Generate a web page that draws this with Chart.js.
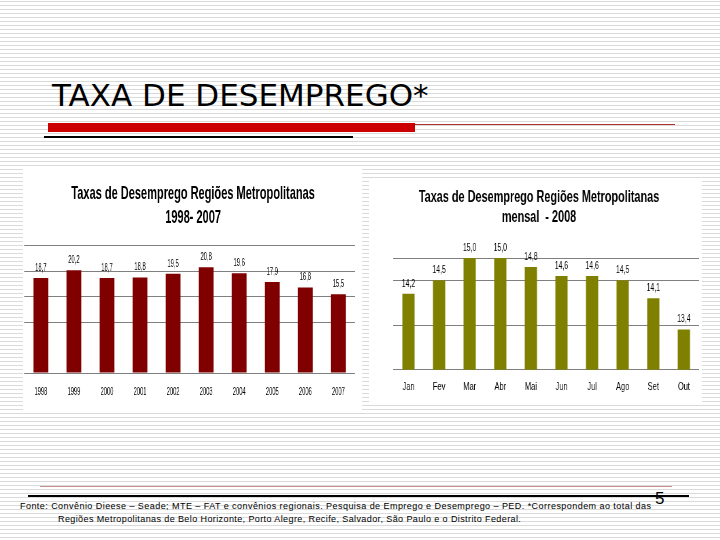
<!DOCTYPE html>
<html>
<head>
<meta charset="utf-8">
<script src="https://cdn.jsdelivr.net/npm/chart.js@4.4.1/dist/chart.umd.min.js"></script>
<style>
    body { margin: 0; }
    #slide {
        position: relative; width: 720px; height: 540px; overflow: hidden;
        background: repeating-linear-gradient(to bottom, #fff 0px, #fff 1px, #dadada 1px, #dadada 2px, #fff 2px, #fff 4px);
        font-family: "Liberation Sans", Arial, sans-serif;
    }
    .abs { position: absolute; }
    #title { left: 52px; top: 77px; font-family: "DejaVu Sans", Verdana, sans-serif; font-size: 31px; color: #000; white-space: nowrap; }
    .panel { background: #fff; }
    .wrap { position: absolute; transform-origin: 0 0; }
    #foot1 { left: 20px; top: 501px; font-size: 9px; white-space: nowrap; letter-spacing: 0.45px; }
    #foot2 { left: 58px; top: 514px; font-size: 9px; white-space: nowrap; letter-spacing: 0.4px; }
    #pagenum { left: 655px; top: 489px; font-size: 17px; }
</style>
</head>
<body>
<div id="slide">
    <div id="title" class="abs">TAXA DE DESEMPREGO*</div>
    <div class="abs" style="left:48px; top:123px; width:367px; height:9px; background:#cc0000"></div>
    <div class="abs" style="left:415px; top:124px; width:260px; height:1px; background:#b03030"></div>
    <div class="abs" style="left:44px; top:136px; width:309px; height:2px; background:#000"></div>

    <div class="abs panel" style="left:23px; top:168px; width:339px; height:242px"></div>
    <div class="abs panel" style="left:369px; top:178px; width:333px; height:227px"></div>

    <div class="wrap" id="wrap1" style="left:22px; top:168px; transform:scaleX(0.58)">
        <canvas id="chart1" width="590" height="253"></canvas>
    </div>
    <div class="wrap" id="wrap2" style="left:368px; top:178px; transform:scaleX(0.68)">
        <canvas id="chart2" width="503" height="238"></canvas>
    </div>

    <div class="abs" style="left:40px; top:486px; width:632px; height:1px; background:#c89090"></div>
    <div class="abs" style="left:28px; top:495px; width:661px; height:2px; background:#000"></div>
    <div id="foot1" class="abs">Fonte: Convênio Dieese – Seade; MTE – FAT e convênios regionais. Pesquisa de Emprego e Desemprego – PED. *Correspondem ao total das</div>
    <div id="foot2" class="abs">Regiões Metropolitanas de Belo Horizonte, Porto Alegre, Recife, Salvador, São Paulo e o Distrito Federal.</div>
    <div id="pagenum" class="abs">5</div>
</div>

<script>
// annual series 1998-2007
const years = ['1998', '1999', '2000', '2001', '2002', '2003', '2004', '2005', '2006', '2007']
const annualRates = [18.7, 20.2, 18.7, 18.8, 19.5, 20.8, 19.6, 17.9, 16.8, 15.5]

// monthly series 2008
const months = ['Jan', 'Fev', 'Mar', 'Abr', 'Mai', 'Jun', 'Jul', 'Ago', 'Set', 'Out']
const monthlyRates = [14.2, 14.5, 15.0, 15.0, 14.8, 14.6, 14.6, 14.5, 14.1, 13.4]

Chart.defaults.font.family = '"Liberation Sans", Arial, sans-serif'
Chart.defaults.color = '#000'
Chart.defaults.animation = false

// value labels over the bars, with comma decimals
const barValues = {
    id: 'barValues',
    afterDatasetsDraw(chart, args, opts) {
        const ctx = chart.ctx
        const meta = chart.getDatasetMeta(0)
        const data = chart.data.datasets[0].data
        ctx.save()
        ctx.font = opts.size + 'px "Liberation Sans", Arial, sans-serif'
        ctx.fillStyle = '#000'
        ctx.textAlign = 'center'
        ctx.textBaseline = 'middle'
        meta.data.forEach((bar, i) => {
            ctx.fillText(data[i].toFixed(1).replace('.', ','), bar.x, bar.y - opts.offset)
        })
        ctx.restore()
    }
}

function makeChart(canvasId, labels, values, color, title, yMin, yMax, step, hidden, sizes) {
    return new Chart(document.getElementById(canvasId), {
        type: 'bar',
        data: {
            labels: labels,
            datasets: [{
                data: values,
                backgroundColor: color,
                barPercentage: sizes.bar,
                categoryPercentage: 1
            }]
        },
        options: {
            responsive: false,
            layout: { padding: sizes.padding },
            plugins: {
                legend: { display: false },
                tooltip: { enabled: false },
                title: {
                    display: true,
                    text: title,
                    font: { size: sizes.title, weight: 'bold', lineHeight: sizes.titleLine },
                    padding: sizes.titlePad,
                    color: '#000'
                },
                barValues: { size: sizes.value, offset: 10 }
            },
            scales: {
                x: {
                    grid: { display: false, drawTicks: false },
                    border: { display: false },
                    ticks: { font: { size: sizes.tick }, padding: sizes.tickPad, maxRotation: 0 }
                },
                y: {
                    min: yMin,
                    max: yMax,
                    afterFit: scale => { scale.width = sizes.yWidth },
                    ticks: { display: false, stepSize: step },
                    border: { display: false },
                    grid: {
                        drawTicks: false,
                        color: c => hidden.includes(c.tick.value) ? 'rgba(0,0,0,0)' : '#7f7f7f'
                    }
                },
                // empty right axis, only to keep some room right of the bars
                yRight: {
                    position: 'right',
                    display: true,
                    afterFit: scale => { scale.width = sizes.rightWidth },
                    ticks: { display: false },
                    border: { display: false },
                    grid: { display: false, drawTicks: false }
                }
            }
        },
        plugins: [barValues]
    })
}

makeChart('chart1', years, annualRates, '#800000',
    ['Taxas de Desemprego Regiões Metropolitanas', '1998- 2007'],
    0, 25, 5, [5],
    { bar: 0.45, yWidth: 4, rightWidth: 16, padding: { left: 0, right: 0, top: 0, bottom: 10 }, title: 19, titleLine: 1.26,
      titlePad: { top: 14, bottom: 16 }, value: 10, tick: 10, tickPad: 13 })

makeChart('chart2', months, monthlyRates, '#808000',
    ['Taxas de Desemprego Regiões Metropolitanas', 'mensal  - 2008'],
    12.5, 15, 0.5, [13, 14],
    { bar: 0.4, yWidth: 37, rightWidth: 16, padding: { left: 0, right: 0, top: 0, bottom: 11 }, title: 16, titleLine: 1.25,
      titlePad: { top: 10, bottom: 30 }, value: 10, tick: 11, tickPad: 11 })
</script>
</body>
</html>
